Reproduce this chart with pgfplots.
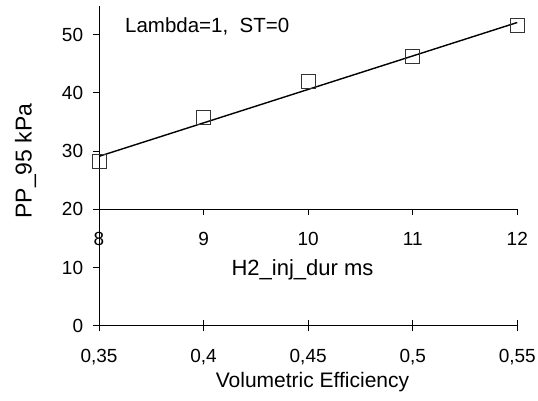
\documentclass[border=0pt]{standalone}
\usepackage{pgfplots}
\pgfplotsset{compat=1.18}
\usepackage{fontspec}
\setmainfont{Liberation Sans}
\begin{document}
\begin{tikzpicture}
\pgfplotsset{
  common/.style={
    at={(99bp,-325.7bp)}, anchor=south west,
    scale only axis, width=418.3bp, height=320.1bp,
    xmin=0.35, xmax=0.55, ymin=0, ymax=55,
    clip=false,
    major tick length=5.7bp,
    axis line style={line width=0.9bp,-},
    every tick/.style={line width=0.9bp, black},
    /pgf/number format/assume math mode=true,
  }
}
% main axis
\begin{axis}[common,
  axis x line*=bottom, axis y line*=left,
  xtick={0.35,0.4,0.45,0.5,0.55},
  xticklabels={{0,35},{0,4},{0,45},{0,5},{0,55}},
  ytick={0,10,20,30,40,50},
  xtick align=outside, ytick align=outside,
  xticklabel style={font=\fontsize{19bp}{20bp}\selectfont, anchor=base, yshift=-31.1bp, inner sep=0pt, text depth=0pt},
  yticklabel style={font=\fontsize{19bp}{20bp}\selectfont, anchor=east, xshift=-10bp, inner sep=0pt},
]
\addplot[only marks, mark=square, mark size=7bp, mark options={draw=black!80, line width=1bp, fill=none}]
  coordinates {(0.35,28.2)(0.40,35.7)(0.45,41.9)(0.50,46.2)(0.55,51.5)};
\addplot[black, line width=1.4bp] coordinates {(0.35,29.1)(0.55,52.1)};
\node[anchor=base west, font=\fontsize{20.5bp}{22bp}\selectfont, inner sep=0pt]
  at (axis cs:0.3624,50.3) {Lambda=1,\ \ ST=0};
\end{axis}
% upward half of the crossing x ticks
\begin{axis}[common,
  axis x line*=bottom, hide y axis,
  xtick={0.35,0.4,0.45,0.5,0.55}, xticklabels={},
  xtick align=inside,
]
\end{axis}
% secondary x axis at y = 20
\begin{axis}[
  at={(99bp,-209.3bp)}, anchor=south west,
  scale only axis, width=418.3bp, height=10bp,
  xmin=8, xmax=12, ymin=0, ymax=1,
  axis x line*=bottom, hide y axis,
  axis line style={line width=0.9bp,-},
  every tick/.style={line width=0.9bp, black},
  major tick length=5.7bp,
  xtick={8,9,10,11,12},
  xtick align=outside,
  /pgf/number format/assume math mode=true,
  xticklabel style={font=\fontsize{19bp}{20bp}\selectfont, anchor=base, yshift=-30bp, inner sep=0pt, text depth=0pt},
]
\end{axis}
\node[anchor=base, font=\fontsize{21bp}{23bp}\selectfont, inner sep=0pt, text height=15bp] at (312.5bp,-387.2bp) {Volumetric Efficiency};
\node[anchor=base, font=\fontsize{22bp}{24bp}\selectfont, inner sep=0pt] at (302.5bp,-275bp) {H2\_inj\_dur ms};
\node[anchor=base, rotate=90, font=\fontsize{23bp}{25bp}\selectfont, inner sep=0pt] at (31.7bp,-161bp) {PP\_95 kPa};
\pgfresetboundingbox
\path (0,0) rectangle (538bp,-401bp);
\end{tikzpicture}
\end{document}
